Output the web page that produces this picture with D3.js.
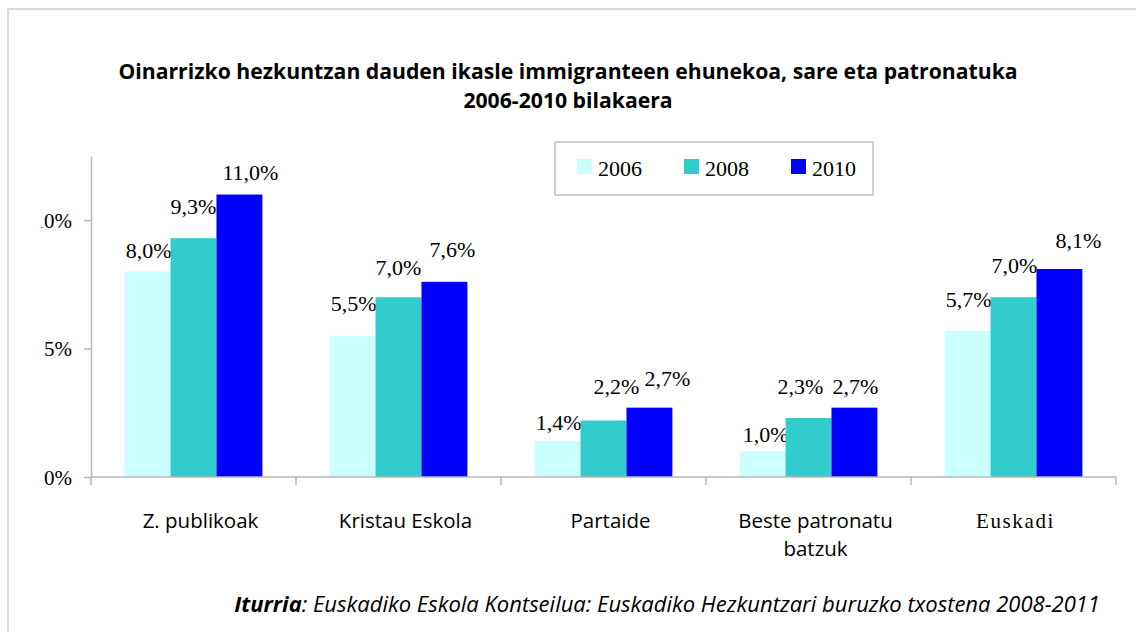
<!DOCTYPE html>
<html>
<head>
<meta charset="utf-8">
<script src="https://cdn.jsdelivr.net/npm/d3@7"></script>
<style>
    body { margin: 0; background: #fff; }
    svg { display: block; }
</style>
</head>
<body>
<div id="chart"></div>
<script>
// Immigrant pupils in basic education, by network, 2006-2010

const categories = ['Z. publikoak', 'Kristau Eskola', 'Partaide', 'Beste patronatu batzuk', 'Euskadi'];
const years = ['2006', '2008', '2010'];
const values2006 = [8.0, 5.5, 1.4, 1.0, 5.7];
const values2008 = [9.3, 7.0, 2.2, 2.3, 7.0];
const values2010 = [11.0, 7.6, 2.7, 2.7, 8.1];
const yTicks = [0, 5, 10];

// hand-placed data label nudges (dx from bar centre, gap above bar top), like the original
const labelNudge = {
    '2006': [[1, 14], [1, 25], [1, 11], [3, 9], [1, 24]],
    '2008': [[0, 24], [0, 22], [13, 27], [-8, 24], [1, 24]],
    '2010': [[11, 15], [8, 25], [18, 22], [1, 14], [19, 21]]
};

const colors = { '2006': '#ccffff', '2008': '#33cccc', '2010': '#0000ff' };
const axisColor = '#b8b8b8';
const serif = '"Liberation Serif", "DejaVu Serif", serif';
const sans = '"Open Sans", "Noto Sans", sans-serif';

const width = 1136, height = 632;
const plot = { left: 91, right: 1116, top: 156, bottom: 477 };

const series = years.map((yr, i) => ({
    year: yr,
    values: [values2006, values2008, values2010][i]
}));

const svg = d3.select('#chart').append('svg')
    .attr('width', width)
    .attr('height', height);

// outer frame (right/bottom edges fall outside the picture)
svg.append('rect')
    .attr('x', 8).attr('y', 9)
    .attr('width', 1140).attr('height', 640)
    .attr('fill', 'none')
    .attr('stroke', '#d9d9d9')
    .attr('stroke-width', 2);

// title
const title = svg.append('text')
    .attr('text-anchor', 'middle')
    .attr('font-family', sans)
    .attr('font-weight', 'bold')
    .attr('font-size', 21.2)
    .attr('fill', '#000');
title.append('tspan').attr('x', 568).attr('y', 79)
    .text('Oinarrizko hezkuntzan dauden ikasle immigranteen ehunekoa, sare eta patronatuka');
title.append('tspan').attr('x', 568).attr('y', 108)
    .text('2006-2010 bilakaera');

// scales
const x0 = d3.scaleBand()
    .domain(categories)
    .range([plot.left, plot.right])
    .padding(0);

const x1 = d3.scaleBand()
    .domain(years)
    .range([33.6, x0.bandwidth() - 33.6])
    .padding(0);

const y = d3.scaleLinear()
    .domain([0, 12.5])
    .range([plot.bottom, plot.top]);

// y axis (the "1" of 10% is cut off by the chart edge in the original)
svg.append('defs').append('clipPath')
    .attr('id', 'yclip')
    .append('rect')
    .attr('x', 41).attr('y', 0)
    .attr('width', width).attr('height', height);

const yAxis = svg.append('g')
    .attr('clip-path', 'url(#yclip)')
    .append('g')
    .attr('transform', `translate(${plot.left},0)`)
    .call(d3.axisLeft(y)
        .tickValues(yTicks)
        .tickSize(7)
        .tickSizeOuter(0)
        .tickPadding(12)
        .tickFormat(d => d + '%'));
yAxis.select('.domain').attr('stroke', axisColor).attr('stroke-width', 1.5);
yAxis.selectAll('.tick line').attr('stroke', axisColor).attr('stroke-width', 1.5);
yAxis.selectAll('.tick text')
    .attr('font-family', serif)
    .attr('font-size', 21)
    .attr('fill', '#000')
    .attr('dy', '0.35em');

// bars
const groups = svg.append('g')
    .selectAll('g')
    .data(series)
    .join('g')
    .attr('fill', d => colors[d.year]);

groups.selectAll('rect')
    .data(d => d.values.map((v, i) => ({ year: d.year, cat: categories[i], value: v })))
    .join('rect')
    .attr('x', d => x0(d.cat) + x1(d.year))
    .attr('y', d => y(d.value))
    .attr('width', x1.bandwidth())
    .attr('height', d => y(0) - y(d.value));

// x axis: baseline plus boundary ticks
svg.append('line')
    .attr('x1', plot.left).attr('x2', plot.right)
    .attr('y1', y(0)).attr('y2', y(0))
    .attr('stroke', axisColor).attr('stroke-width', 1.5);

const boundaries = categories.map(c => x0(c)).concat([x0(categories[categories.length - 1]) + x0.bandwidth()]);
svg.append('g')
    .selectAll('line')
    .data(boundaries)
    .join('line')
    .attr('x1', d => d).attr('x2', d => d)
    .attr('y1', y(0)).attr('y2', y(0) + 8)
    .attr('stroke', axisColor).attr('stroke-width', 1.5);

// category labels
const catLabels = svg.append('g')
    .selectAll('text')
    .data(categories)
    .join('text')
    .attr('text-anchor', 'middle')
    .attr('fill', '#000')
    .attr('font-family', d => d === 'Euskadi' ? serif : sans)
    .attr('font-size', d => d === 'Euskadi' ? 21 : 20.5)
    .attr('letter-spacing', d => d === 'Euskadi' ? 1.6 : 0);

catLabels.each(function (d) {
    const isSerif = d === 'Euskadi';
    const cx = x0(d) + x0.bandwidth() / 2 + (isSerif ? 2 : 7);
    const words = d === 'Beste patronatu batzuk' ? ['Beste patronatu', 'batzuk'] : [d];
    d3.select(this).selectAll('tspan')
        .data(words)
        .join('tspan')
        .attr('x', cx)
        .attr('y', (w, i) => 528 + i * 28)
        .text(w => w);
});

// data labels
groups.selectAll('text')
    .data(d => d.values.map((v, i) => ({ year: d.year, cat: categories[i], idx: i, value: v })))
    .join('text')
    .attr('text-anchor', 'middle')
    .attr('font-family', serif)
    .attr('font-size', 22)
    .attr('fill', '#000')
    .attr('x', d => x0(d.cat) + x1(d.year) + x1.bandwidth() / 2 + labelNudge[d.year][d.idx][0])
    .attr('y', d => y(d.value) - labelNudge[d.year][d.idx][1])
    .text(d => d.value.toFixed(1).replace('.', ',') + '%');

// legend
const legend = svg.append('g').attr('transform', 'translate(555,142)');
legend.append('rect')
    .attr('width', 318).attr('height', 53)
    .attr('fill', '#fff')
    .attr('stroke', '#bfbfbf')
    .attr('stroke-width', 1.5);

const items = legend.selectAll('g')
    .data(years)
    .join('g')
    .attr('transform', (d, i) => `translate(${22 + i * 107},17)`);
items.append('rect')
    .attr('width', 15).attr('height', 15)
    .attr('fill', d => colors[d]);
items.append('text')
    .attr('x', 21).attr('y', 17)
    .attr('font-family', serif)
    .attr('font-size', 22)
    .attr('fill', '#000')
    .text(d => d);

// source note
const source = svg.append('text')
    .attr('x', 1100).attr('y', 612)
    .attr('text-anchor', 'end')
    .attr('font-family', sans)
    .attr('font-style', 'italic')
    .attr('font-size', 22)
    .attr('fill', '#000');
source.append('tspan').attr('font-weight', 'bold').text('Iturria');
source.append('tspan').text(': Euskadiko Eskola Kontseilua: Euskadiko Hezkuntzari buruzko txostena 2008-2011');
</script>
</body>
</html>
